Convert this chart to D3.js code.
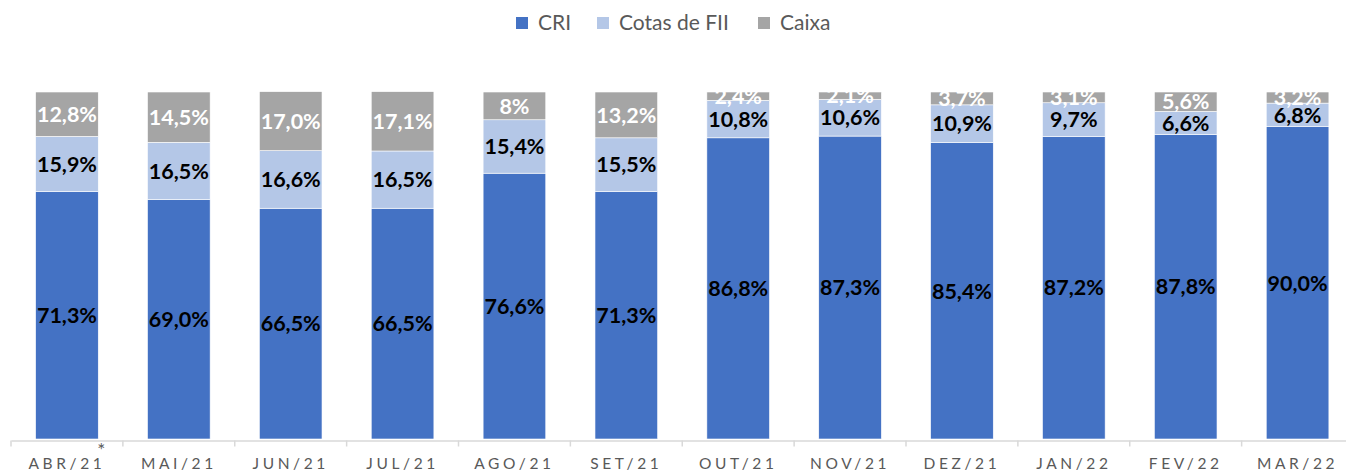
<!DOCTYPE html>
<html>
<head>
<meta charset="utf-8">
<script src="https://d3js.org/d3.v7.min.js"></script>
<style>
  body { margin: 0; background: #fff; }
  svg text { font-family: Lato, "Open Sans", sans-serif; }
</style>
</head>
<body>
<div id="chart"></div>
<script>
// dados do gráfico
var meses = ["ABR/21", "MAI/21", "JUN/21", "JUL/21", "AGO/21", "SET/21",
             "OUT/21", "NOV/21", "DEZ/21", "JAN/22", "FEV/22", "MAR/22"];
var cri    = [71.3, 69.0, 66.5, 66.5, 76.6, 71.3, 86.8, 87.3, 85.4, 87.2, 87.8, 90.0];
var cotas  = [15.9, 16.5, 16.6, 16.5, 15.4, 15.5, 10.8, 10.6, 10.9, 9.7, 6.6, 6.8];
var caixa  = [12.8, 14.5, 17.0, 17.1, 8.0, 13.2, 2.4, 2.1, 3.7, 3.1, 5.6, 3.2];
var rotulosCaixa = ["12,8%", "14,5%", "17,0%", "17,1%", "8%", "13,2%",
                    "2,4%", "2,1%", "3,7%", "3,1%", "5,6%", "3,2%"];
var series = ["CRI", "Cotas de FII", "Caixa"];
var cores = ["#4472C4", "#B4C7E7", "#A5A5A5"];
var corTexto = ["#000", "#000", "#fff"];

var width = 1346, height = 472;
var plotTop = 92, plotBottom = 439;

var data = meses.map(function(m, i) {
  return { mes: m, "CRI": cri[i], "Cotas de FII": cotas[i], "Caixa": caixa[i], caixaLabel: rotulosCaixa[i] };
});

var svg = d3.select("#chart").append("svg")
  .attr("width", width).attr("height", height);

var x = d3.scaleBand().domain(meses).range([11, 1353.5]).paddingInner(0.44).paddingOuter(0.22);
var y = d3.scaleLinear().domain([0, 100]).range([plotBottom, plotTop]);

var stack = d3.stack().keys(series)(data);

svg.append("defs").append("clipPath").attr("id", "plot")
  .append("rect").attr("x", 0).attr("y", plotTop).attr("width", width).attr("height", plotBottom - plotTop);

var layer = svg.selectAll("g.layer").data(stack).enter().append("g")
  .attr("class", "layer")
  .attr("fill", function(d, i) { return cores[i]; });

layer.selectAll("rect").data(function(d) { return d; }).enter().append("rect")
  .attr("x", function(d) { return x(d.data.mes); })
  .attr("y", function(d) { return y(d[1]); })
  .attr("width", x.bandwidth())
  .attr("height", function(d) { return y(d[0]) - y(d[1]); })
  .attr("stroke", "#fff").attr("stroke-width", 0.6);

// rótulos
var labels = svg.append("g").attr("clip-path", "url(#plot)");
stack.forEach(function(s, si) {
  labels.selectAll("text.s" + si).data(s).enter().append("text")
    .attr("class", "s" + si)
    .attr("x", function(d) { return x(d.data.mes) + x.bandwidth() / 2; })
    .attr("y", function(d) { return (y(d[0]) + y(d[1])) / 2; })
    .attr("dy", "0.36em")
    .attr("text-anchor", "middle")
    .attr("font-size", 21.5).attr("font-weight", "bold")
    .attr("fill", corTexto[si])
    .text(function(d) {
      if (si === 2) return d.data.caixaLabel;
      return d3.format(".1f")(d[1] - d[0]).replace(".", ",") + "%";
    });
});

// eixo x
var axis = svg.append("g")
  .attr("transform", "translate(0," + 440.5 + ")")
  .call(d3.axisBottom(x).tickSize(0).tickPadding(17));
axis.select(".domain").attr("stroke", "#d9d9d9").attr("stroke-width", 1.5);
axis.selectAll("text").attr("font-size", 15.5).attr("fill", "#595959")
  .attr("letter-spacing", "3.6px").attr("font-family", "Lato, sans-serif");

var step = x.step();
var bordas = d3.range(meses.length + 1).map(function(i) { return 11 + i * step; });
axis.selectAll("line.sep").data(bordas).enter().append("line")
  .attr("class", "sep")
  .attr("x1", function(d) { return d; }).attr("x2", function(d) { return d; })
  .attr("y1", 0).attr("y2", 6)
  .attr("stroke", "#d9d9d9").attr("stroke-width", 1.5);

svg.append("text")
  .attr("x", x("ABR/21") + x.bandwidth() + 3).attr("y", 457)
  .attr("text-anchor", "middle").attr("font-size", 19).attr("fill", "#595959")
  .text("*");

// legenda
var legX = [516, 597, 758];
var leg = svg.selectAll("g.leg").data(series).enter().append("g")
  .attr("class", "leg")
  .attr("transform", function(d, i) { return "translate(" + legX[i] + ",0)"; });
leg.append("rect").attr("x", 0).attr("y", 17).attr("width", 12).attr("height", 12)
  .attr("fill", function(d, i) { return cores[i]; });
leg.append("text").attr("x", 22).attr("y", 30)
  .attr("font-size", 21).attr("fill", "#595959")
  .text(function(d) { return d; });
</script>
</body>
</html>
